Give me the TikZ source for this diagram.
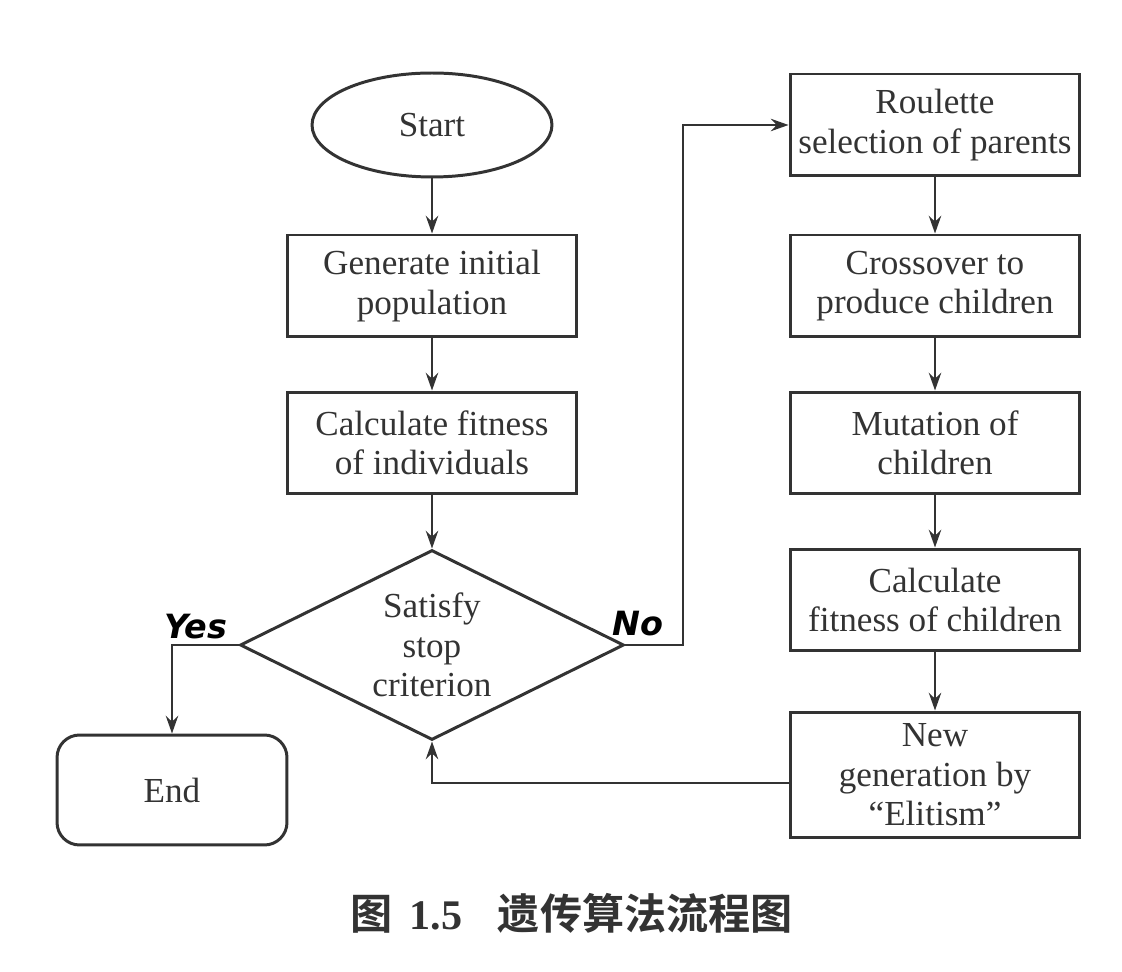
\documentclass[tikz,border=0pt]{standalone}
\usepackage{fontspec}
\setmainfont{Liberation Serif}
\newfontfamily\cjk{Noto Sans CJK SC}[BoldFont={Noto Sans CJK SC Bold}]
\newfontfamily\hand{DejaVu Sans}
\usetikzlibrary{shapes.geometric,arrows.meta}
\definecolor{ink}{HTML}{333333}
\begin{document}
\begin{tikzpicture}[x=0.02cm,y=-0.02cm,
  every node/.style={text=ink,font=\fontsize{20}{22.5}\selectfont,align=center},
  box/.style={draw=ink,line width=1.7pt,rectangle,minimum width=5.8cm,minimum height=2.04cm,inner sep=0pt},
  conn/.style={draw=ink,line width=1.5pt},
  arr/.style={conn,-{Stealth[length=10pt,width=7pt]}},
  lbl/.style={font=\hand\bfseries\itshape\fontsize{19}{22}\selectfont,text=black}]
\useasboundingbox (0,0) rectangle (1122,972);
% left column
\node[draw=ink,line width=1.7pt,ellipse,minimum width=4.8cm,minimum height=2.08cm,inner sep=0pt] (start) at (432,125) {Start};
\node[box] (gen) at (432,286) {Generate initial\\population};
\node[box] (calc) at (432,443) {Calculate fitness\\of individuals};
\node[draw=ink,line width=1.7pt,diamond,minimum width=7.68cm,minimum height=3.8cm,inner sep=0pt,aspect=2] (dec) at (432,645) {Satisfy\\stop\\criterion};
\node[draw=ink,line width=1.7pt,rectangle,rounded corners=0.45cm,minimum width=4.6cm,minimum height=2.2cm,inner sep=0pt] (end) at (172,790) {End};
% right column
\node[box] (rou) at (935,125) {Roulette\\selection of parents};
\node[box] (cro) at (935,286) {Crossover to\\produce children};
\node[box] (mut) at (935,443) {Mutation of\\children};
\node[box] (cfc) at (935,600) {Calculate\\fitness of children};
\node[box,minimum height=2.52cm] (new) at (935,775) {New\\generation by\\``Elitism''};
% connectors
\draw[arr] (start) -- (gen);
\draw[arr] (gen) -- (calc);
\draw[arr] (calc) -- (dec.north);
\draw[arr] (dec.west) -| (end.north);
\draw[arr] (dec.east) -- (683,645) |- (rou.west);
\draw[arr] (rou) -- (cro);
\draw[arr] (cro) -- (mut);
\draw[arr] (mut) -- (cfc);
\draw[arr] (cfc) -- (new);
\coordinate (back) at (432,783);
\draw[arr] (new.west |- back) -- (back) -- (dec.south);
% labels
\node[lbl] (yes) at (196,627) {Yes};
\node[lbl] (no) at (638,624) {No};
% caption
\node[anchor=west,font=\fontsize{24}{26}\selectfont,inner sep=0pt] (cap) at (350,913) {{\cjk\bfseries 图}\hspace{0.4em}\textbf{1.5}\hspace{0.85em}{\cjk\bfseries 遗传算法流程图}};
\end{tikzpicture}
\end{document}
